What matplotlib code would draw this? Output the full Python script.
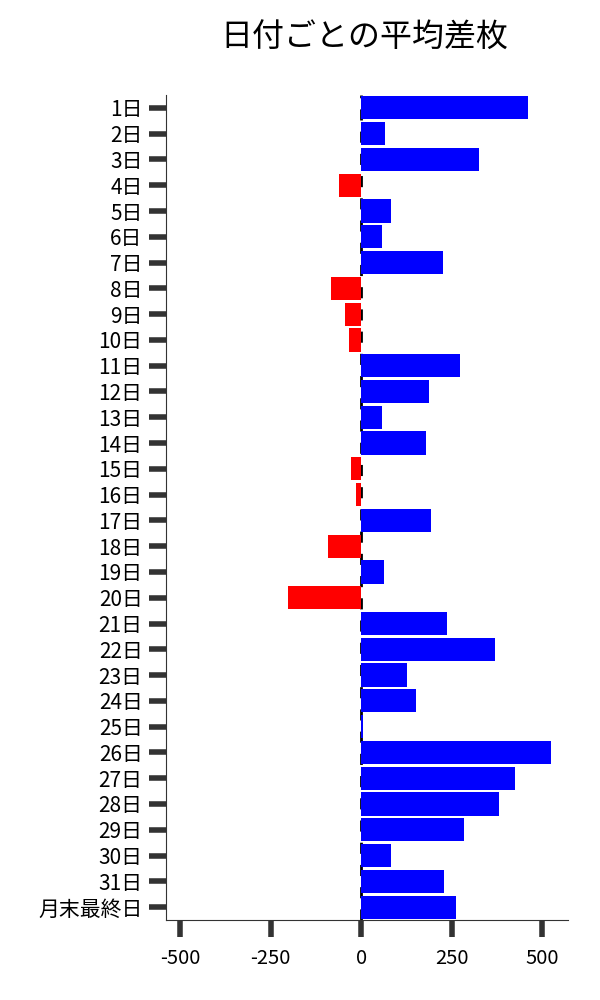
import matplotlib
matplotlib.use("Agg")
import matplotlib.pyplot as plt

plt.rcParams['font.family'] = ['Noto Sans CJK JP', 'DejaVu Sans']

days = [f"{i}日" for i in range(1, 32)] + ["月末最終日"]
diffs = [461, 66, 326, -61, 83, 58, 226, -83, -44, -33,
         273, 188, 58, 179, -28, -14, 193, -91, 63, -201,
         237, 370, 127, 152, 5, 524, 425, 381, 284, 83,
         229, 262]

colors = ['blue' if v >= 0 else 'red' for v in diffs]

fig = plt.figure(figsize=(6, 10), dpi=100)
ax = fig.add_axes([0.277, 0.08, 0.67, 0.825])

ypos = list(range(len(days)))
ax.barh(ypos, diffs, height=0.9, color=colors, zorder=2)
ax.axvline(0, color='black', linestyle=(0, (4, 4)), linewidth=2, zorder=1)

ax.set_yticks(ypos)
ax.set_yticklabels(days, fontsize=15)
ax.set_ylim(len(days) - 0.5, -0.5)
ax.set_xlim(-538, 571)
ax.set_xticks([-500, -250, 0, 250, 500])
ax.set_xticklabels(['-500', '-250', '0', '250', '500'], fontsize=14.5)

ax.tick_params(axis='both', length=12, width=4, color='#333333', pad=5)
ax.tick_params(axis='x', pad=8)
ax.spines['top'].set_visible(False)
ax.spines['right'].set_visible(False)
ax.spines['left'].set_color('#333333')
ax.spines['bottom'].set_color('#333333')

fig.suptitle("日付ごとの平均差枚", fontsize=23, x=0.608, y=0.978)

fig.savefig("out.png")
